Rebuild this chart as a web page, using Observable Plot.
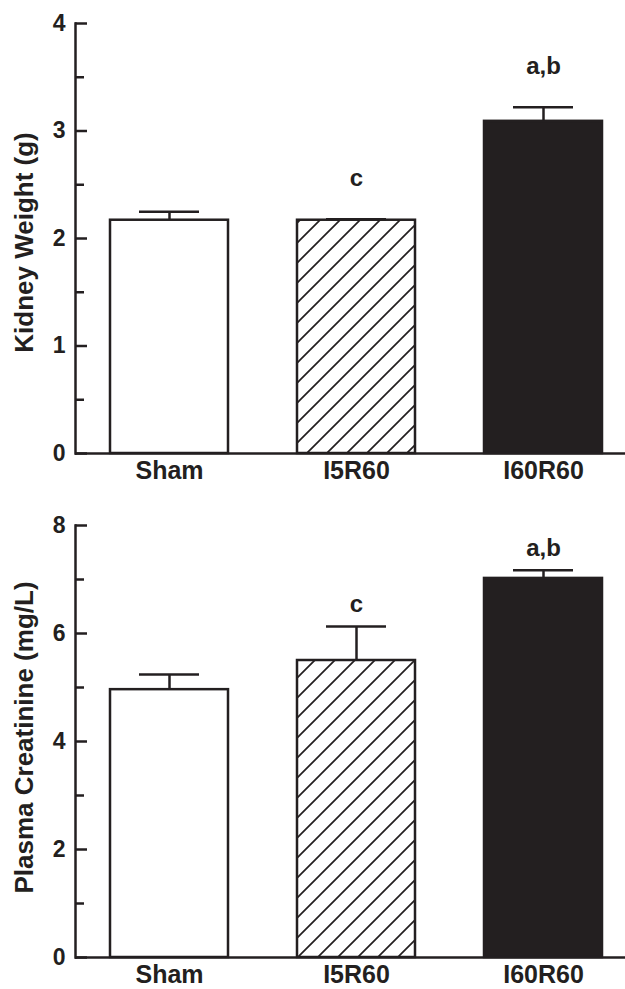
<!DOCTYPE html>
<html>
<head>
<meta charset="utf-8">
<script src="https://cdn.jsdelivr.net/npm/d3@7"></script>
<script src="https://cdn.jsdelivr.net/npm/@observablehq/plot@0.6"></script>
<style>
  html, body { margin: 0; padding: 0; background: #fff; }
  #chart svg { display: block; }
</style>
</head>
<body>
<div id="chart"></div>
<script>
// ---- Data ----
const groups = ["Sham", "I5R60", "I60R60"];
const kidneyWeight = [2.17, 2.17, 3.09];
const kidneyWeightErr = [0.08, 0.01, 0.13];
const creatinine = [4.96, 5.50, 7.02];
const creatinineErr = [0.28, 0.63, 0.15];
const sigLabels = ["", "c", "a,b"];
const kidneyTicks = [0, 1, 2, 3, 4];
const kidneyMinor = [0.5, 1.5, 2.5, 3.5];
const creatTicks = [0, 2, 4, 6, 8];
const creatMinor = [1, 3, 5, 7];

const INK = "#231f20";
const FONT = "'Liberation Sans', Arial, Helvetica, sans-serif";

function panel({values, errs, ticks, minor, domain, title, height, marginTop, marginBottom,
                labelDy, titleDx, titleDy, hatchId}) {
  const data = groups.map((g, i) => ({group: g, value: values[i], err: errs[i], label: sigLabels[i]}));
  const fills = {"Sham": "#ffffff", "I5R60": `url(#${hatchId})`, "I60R60": INK};
  const frameW = 625 - 75;
  const svg = Plot.plot({
    width: 625,
    height,
    marginLeft: 75,
    marginRight: 0,
    marginTop,
    marginBottom,
    style: {fontFamily: FONT, fontWeight: "bold", color: INK, background: "#fff", overflow: "visible"},
    x: {domain: groups, range: [75, 636], paddingInner: 0.369, paddingOuter: 0.1845, align: 0.5, label: null},
    y: {domain, label: null},
    color: {type: "identity"},
    marks: [
      Plot.barY(data, {x: "group", y: "value", fill: d => fills[d.group], stroke: INK, strokeWidth: 2.5}),
      Plot.ruleX(data, {x: "group", y1: "value", y2: d => d.value + d.err, stroke: INK, strokeWidth: 2.5}),
      Plot.tickY(data, {x: "group", y: d => d.value + d.err, insetLeft: 29, insetRight: 29, stroke: INK, strokeWidth: 2.5}),
      Plot.text(data, {x: "group", y: d => d.value + d.err, text: "label", dy: labelDy, fontSize: 24, fontWeight: "bold", fill: INK}),
      // y axis ticks pointing inward
      Plot.tickY(ticks, {y: d => d, insetRight: frameW - 12, stroke: INK, strokeWidth: 2.5}),
      Plot.tickY(minor, {y: d => d, insetRight: frameW - 9, stroke: INK, strokeWidth: 2.5}),
      Plot.axisY(ticks, {tickSize: 0, tickPadding: 10, fontSize: 23, fontWeight: "bold", tickFormat: d3.format("d")}),
      Plot.axisX({tickSize: 0, tickPadding: 8, fontSize: 25, fontWeight: "bold"}),
      Plot.frame({anchor: "left", stroke: INK, strokeWidth: 2.5}),
      Plot.ruleY([domain[0]], {stroke: INK, strokeWidth: 2.5}),
      Plot.text([title], {frameAnchor: "left", rotate: -90, textAnchor: "middle", dx: titleDx, dy: titleDy,
                          fontSize: 26, fontWeight: "bold", fill: INK})
    ]
  });
  const defs = d3.select(svg).insert("defs", ":first-child");
  const pat = defs.append("pattern")
    .attr("id", hatchId)
    .attr("patternUnits", "userSpaceOnUse")
    .attr("width", 20).attr("height", 20);
  pat.append("rect").attr("width", 20).attr("height", 20).attr("fill", "#fff");
  pat.append("path")
    .attr("d", "M-5,5L5,-5M0,20L20,0M15,25L25,15")
    .attr("stroke", INK).attr("stroke-width", 1.7).attr("fill", "none");
  return svg;
}

const chart = document.getElementById("chart");
chart.append(panel({
  values: kidneyWeight, errs: kidneyWeightErr, ticks: kidneyTicks, minor: kidneyMinor,
  domain: [0, 4], title: "Kidney Weight (g)", height: 495, marginTop: 23, marginBottom: 42,
  labelDy: -41, titleDx: -51, titleDy: 4, hatchId: "hatchA"
}));
chart.append(panel({
  values: creatinine, errs: creatinineErr, ticks: creatTicks, minor: creatMinor,
  domain: [0, 8], title: "Plasma Creatinine (mg/L)", height: 494, marginTop: 30, marginBottom: 32,
  labelDy: -22, titleDx: -51, titleDy: -4, hatchId: "hatchB"
}));
</script>
</body>
</html>
